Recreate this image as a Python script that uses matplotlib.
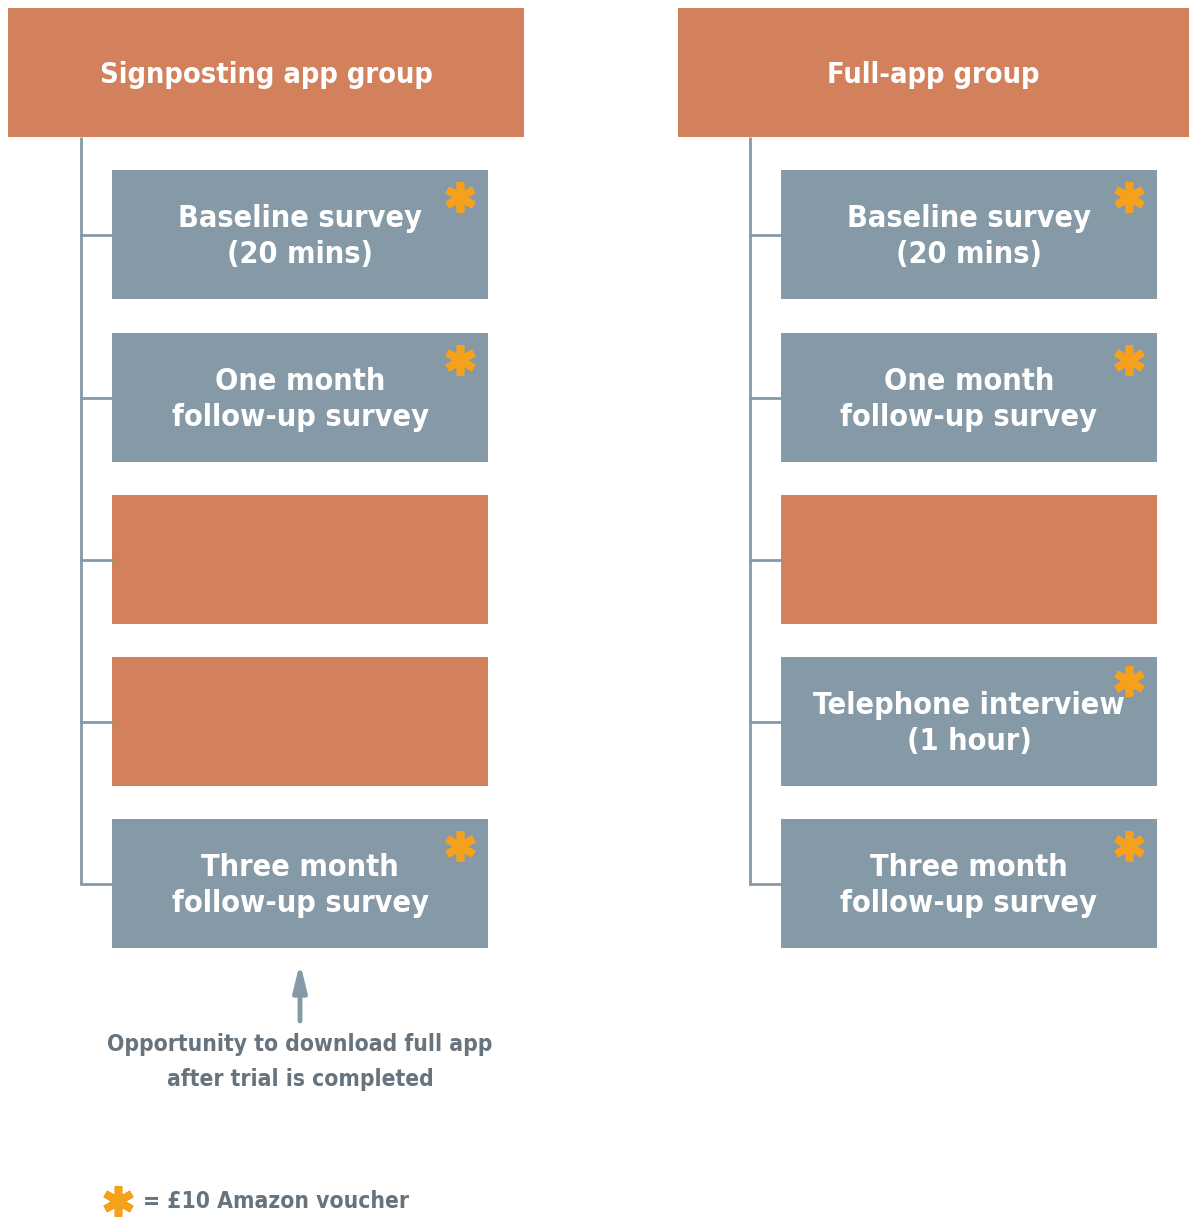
import matplotlib
matplotlib.use("Agg")
import matplotlib.pyplot as plt
from matplotlib import font_manager
from matplotlib.patches import Rectangle

# --- data -------------------------------------------------------------
groups = ["Signposting app group", "Full-app group"]
left_steps = ["Baseline survey\n(20 mins)", "One month\nfollow-up survey", "", "",
              "Three month\nfollow-up survey"]
right_steps = ["Baseline survey\n(20 mins)", "One month\nfollow-up survey", "",
               "Telephone interview\n(1 hour)", "Three month\nfollow-up survey"]
left_voucher = [True, True, False, False, True]
right_voucher = [True, True, False, True, True]
note = "Opportunity to download full app\nafter trial is completed"
legend_text = "= £10 Amazon voucher"

ORANGE = "#D3805D"
GREY = "#8599A6"
STAR = "#F6A11E"
DARK = "#67747E"

# pick a narrow bold face if one is installed
ttf = font_manager.fontManager.ttflist
names = {f.name for f in ttf}
if "Liberation Sans Narrow" in names:
    FONT = dict(family="Liberation Sans Narrow", weight="bold")
    k = 1.0
elif any(f.name == "DejaVu Sans" and str(f.stretch) == "condensed" for f in ttf):
    FONT = dict(family="DejaVu Sans", weight="bold", stretch="condensed")
    k = 0.8
else:
    FONT = dict(family="Roboto", weight="heavy")
    k = 0.85

W, H = 1189, 1219
fig = plt.figure(figsize=(W / 100, H / 100), dpi=100)
ax = fig.add_axes([0, 0, 1, 1])
ax.set_xlim(0, W)
ax.set_ylim(H, 0)
ax.axis("off")

box_h = 129
box_tops = [170, 333, 495, 657, 819]
star_dy = [27, 27, 27, 24, 27]


def column(x0, x1, line_x, bx0, bx1, title, steps, voucher):
    ax.add_patch(Rectangle((x0, 8), x1 - x0, 129, color=ORANGE, lw=0))
    ax.text((x0 + x1) / 2, 75, title, color="white", ha="center", va="center",
            fontsize=26 * k, **FONT)
    mids = [t + box_h / 2 for t in box_tops]
    ax.plot([line_x, line_x], [137, mids[-1]], color=GREY, lw=2, solid_capstyle="butt")
    for top, mid, label, v, dy in zip(box_tops, mids, steps, voucher, star_dy):
        ax.plot([line_x, bx0], [mid, mid], color=GREY, lw=2)
        ax.add_patch(Rectangle((bx0, top), bx1 - bx0, box_h,
                               color=GREY if label else ORANGE, lw=0))
        if label:
            ax.text((bx0 + bx1) / 2, mid + 2, label, color="white",
                    ha="center", va="center", fontsize=27.5 * k,
                    linespacing=1.28, **FONT)
        if v:
            ax.plot(bx1 - 28, top + dy, marker=(6, 2, 0), ms=22, mew=5.5,
                    color=STAR)


column(8, 524, 81, 112, 488, groups[0], left_steps, left_voucher)
column(678, 1189, 750, 781, 1157, groups[1], right_steps, right_voucher)

# arrow and note under the left column
ax.annotate("", xy=(300, 963), xytext=(300, 1021),
            arrowprops=dict(arrowstyle="-|>,head_length=1.6,head_width=0.4",
                            color=GREY, lw=3.5, shrinkA=0, shrinkB=0))
ax.text(300, 1062, note, color=DARK, ha="center", va="center",
        fontsize=20.5 * k, linespacing=1.7, **FONT)

# legend
ax.plot(118, 1201, marker=(6, 2, 0), ms=22, mew=5.5, color=STAR)
ax.text(143, 1201, legend_text, color=DARK, ha="left", va="center",
        fontsize=20.5 * k, **FONT)

fig.savefig("out.png", dpi=100)
